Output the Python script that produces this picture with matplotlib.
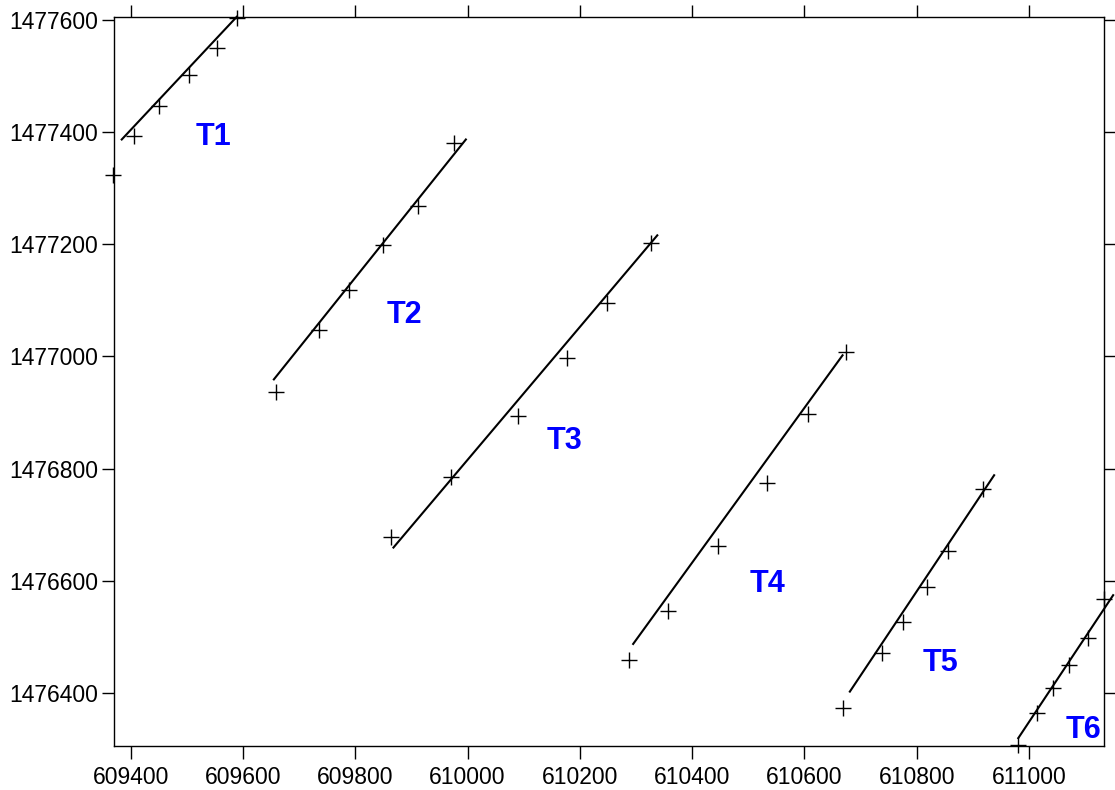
import matplotlib
matplotlib.use("Agg")
import matplotlib.pyplot as plt
from matplotlib.ticker import MultipleLocator, FormatStrFormatter

plt.rcParams["font.family"] = ["Liberation Sans", "DejaVu Sans"]

# survey points per transect (easting, northing)
names = ["T1", "T2", "T3", "T4", "T5", "T6"]
pts_x = [
    [609369, 609406, 609451, 609504, 609554, 609589],
    [609659, 609735, 609789, 609849, 609912, 609975],
    [609863, 609971, 610090, 610178, 610249, 610327],
    [610288, 610357, 610446, 610533, 610607, 610674],
    [610668, 610738, 610776, 610818, 610856, 610919],
    [610980, 611014, 611043, 611072, 611105, 611134],
]
pts_y = [
    [1477323, 1477394, 1477447, 1477502, 1477551, 1477603],
    [1476936, 1477047, 1477118, 1477198, 1477268, 1477380],
    [1476678, 1476784, 1476894, 1476998, 1477095, 1477203],
    [1476458, 1476546, 1476662, 1476775, 1476898, 1477008],
    [1476372, 1476470, 1476527, 1476589, 1476652, 1476763],
    [1476306, 1476363, 1476409, 1476449, 1476498, 1476567],
]
# fitted transect lines: start / end
line_x = [
    [609384, 609589],
    [609655, 609997],
    [609868, 610338],
    [610295, 610668],
    [610681, 610938],
    [610981, 611150],
]
line_y = [
    [1477387, 1477606],
    [1476959, 1477387],
    [1476659, 1477216],
    [1476487, 1477002],
    [1476402, 1476788],
    [1476319, 1476574],
]
# label anchor (baseline, centred)
lab_x = [609547, 609888, 610173, 610534, 610842, 611098]
lab_y = [1477377, 1477059, 1476834, 1476580, 1476439, 1476319]

fig = plt.figure(figsize=(11.15, 7.9), dpi=100)
ax = fig.add_axes([0.10197, 0.05608, 0.88816, 0.92203])

for i, name in enumerate(names):
    ax.plot(line_x[i], line_y[i], color="black", lw=1.5, clip_on=False)
    ax.plot(pts_x[i], pts_y[i], ls="none", marker="+", ms=12, mew=1.0,
            color="black", clip_on=False)
    ax.text(lab_x[i], lab_y[i], name, color="#0000ff", fontsize=22,
            fontweight="bold", ha="center", va="baseline")

ax.set_xlim(609369.7, 611133.7)
ax.set_ylim(1476305.5, 1477605)
ax.xaxis.set_major_locator(MultipleLocator(200))
ax.yaxis.set_major_locator(MultipleLocator(200))
ax.xaxis.set_major_formatter(FormatStrFormatter("%d"))
ax.yaxis.set_major_formatter(FormatStrFormatter("%d"))

ax.tick_params(axis="both", direction="out", length=9, width=1.0,
               top=True, right=True, labelsize=16.5, color="black")
ax.tick_params(axis="x", pad=5.5)
ax.tick_params(axis="y", pad=2)
for sp in ax.spines.values():
    sp.set_linewidth(1.0)
    sp.set_color("black")

fig.savefig("out.png", dpi=100)
